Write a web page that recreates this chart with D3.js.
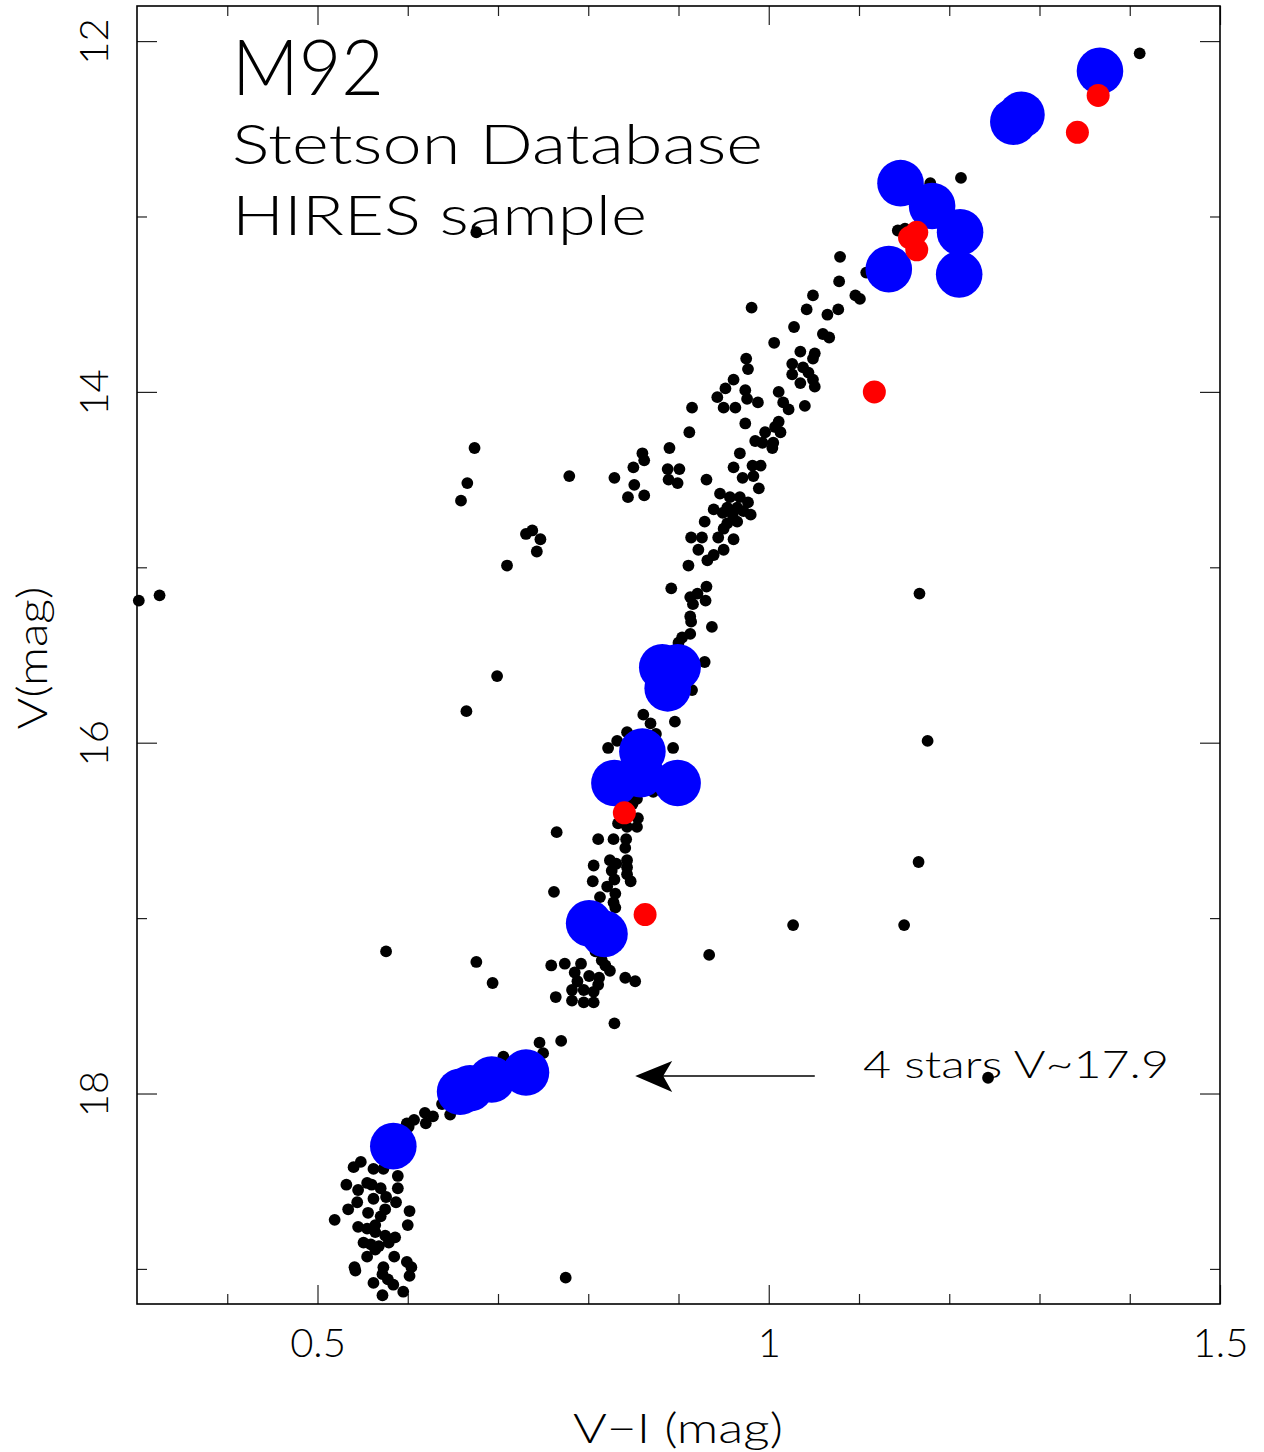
<!DOCTYPE html>
<html><head><meta charset="utf-8">
<script src="https://cdn.jsdelivr.net/npm/d3@7"></script>
<style>
body{margin:0;background:#fff}
svg{display:block;background:#fff}
text{font-family:"Lato","DejaVu Sans",sans-serif;font-weight:300;fill:#000}
</style>
</head><body>
<svg id="chart" width="1264" height="1452"></svg>
<script>
// ---------------- data (V-I colour, V magnitude) ----------------
const blackStars = [
[1.411,12.07],[1.213,12.78],[1.179,12.81],[1.143,13.08],[1.151,13.07],[1.079,13.23],[1.108,13.32],[1.078,13.37],[1.096,13.45],[1.101,13.47],
[1.049,13.45],[0.981,13.52],[1.042,13.53],[1.077,13.53],[1.065,13.56],[1.028,13.63],[1.060,13.67],[1.067,13.69],[1.006,13.72],[1.035,13.77],
[1.051,13.78],[1.049,13.81],[0.975,13.81],[0.977,13.87],[1.026,13.84],[1.038,13.86],[1.044,13.89],[1.026,13.90],[1.035,13.95],[1.049,13.93],
[1.051,13.97],[0.961,13.93],[0.952,13.98],[0.943,14.03],[0.950,14.09],[0.963,14.09],[0.974,13.99],[0.976,14.04],[0.988,14.06],[1.011,14.00],
[1.016,14.06],[1.022,14.10],[1.040,14.08],[0.915,14.09],[0.974,14.18],[1.011,14.17],[1.007,14.20],[1.013,14.23],[0.912,14.23],[0.996,14.23],
[0.985,14.28],[0.993,14.29],[1.005,14.29],[1.004,14.32],[0.890,14.32],[0.968,14.35],[0.860,14.35],[0.862,14.39],[0.674,14.32],[0.888,14.44],
[0.901,14.44],[0.889,14.50],[0.899,14.52],[0.961,14.43],[0.982,14.42],[0.991,14.42],[0.983,14.48],[0.971,14.49],[0.931,14.50],[0.989,14.55],
[0.850,14.43],[0.829,14.49],[0.851,14.53],[0.844,14.60],[0.862,14.59],[0.779,14.48],[0.666,14.52],[0.659,14.62],
[0.946,14.58],[0.957,14.60],[0.968,14.60],[0.977,14.63],[0.954,14.66],[0.965,14.66],[0.939,14.67],[0.949,14.69],[0.960,14.70],[0.972,14.68],
[0.980,14.70],[0.954,14.75],[0.965,14.74],[0.950,14.78],[0.929,14.74],[0.914,14.83],[0.926,14.83],[0.944,14.83],[0.961,14.84],
[0.738,14.79],[0.731,14.81],[0.747,14.84],[0.743,14.91],[0.922,14.90],[0.932,14.96],[0.939,14.93],[0.950,14.90],[0.911,14.99],[0.710,14.99],
[0.892,15.12],[0.913,15.17],[0.921,15.15],[0.931,15.11],[0.930,15.19],[0.916,15.21],[0.913,15.28],[0.914,15.31],[0.937,15.34],[0.913,15.38],
[0.904,15.40],[0.900,15.43],[0.929,15.54],[0.915,15.70],[0.302,15.19],[0.325,15.16],[0.699,15.62],[0.665,15.82],[0.861,15.84],[0.869,15.89],
[0.896,15.88],[0.843,15.94],[0.875,15.95],[0.832,15.99],[0.822,16.03],[0.894,16.03],[0.858,16.27],[0.872,16.28],[0.854,16.32],[0.849,16.35],
[0.833,16.46],[0.855,16.43],[0.854,16.48],[0.843,16.48],[0.765,16.51],[0.811,16.55],[0.828,16.55],[0.842,16.55],[0.841,16.60],[0.824,16.67],
[0.831,16.69],[0.843,16.67],[0.843,16.71],[0.806,16.70],[0.805,16.79],[0.826,16.73],[0.829,16.78],[0.821,16.82],[0.843,16.75],[0.847,16.79],
[0.762,16.85],[0.830,16.86],[0.813,16.88],[0.828,16.91],[0.830,16.94],[1.167,15.15],[1.176,15.99],[1.166,16.68],[1.150,17.04],[1.027,17.04],
[0.934,17.21],[0.576,17.19],[0.676,17.25],[0.694,17.37],[0.759,17.27],[0.774,17.26],[0.792,17.26],[0.815,17.24],[0.819,17.27],[0.824,17.30],
[0.785,17.31],[0.801,17.33],[0.812,17.34],[0.788,17.36],[0.811,17.38],[0.841,17.34],[0.852,17.36],[0.782,17.41],[0.795,17.41],[0.806,17.42],
[0.764,17.45],[0.782,17.47],[0.795,17.48],[0.806,17.48],[0.829,17.60],[0.746,17.71],[0.770,17.70],[0.750,17.77],[0.706,17.79],[1.243,17.91],
[0.638,18.06],[0.647,18.12],[0.619,18.11],[0.628,18.13],[0.620,18.17],[0.607,18.15],[0.599,18.17],[0.601,18.19],[0.540,18.42],[0.548,18.39],
[0.562,18.43],[0.573,18.43],[0.589,18.47],[0.532,18.52],[0.545,18.55],[0.555,18.51],[0.560,18.52],[0.570,18.54],[0.576,18.59],[0.589,18.54],
[0.544,18.62],[0.562,18.60],[0.587,18.62],[0.534,18.66],[0.556,18.68],[0.575,18.66],[0.570,18.70],[0.602,18.67],[0.519,18.72],[0.545,18.76],
[0.555,18.77],[0.564,18.75],[0.564,18.79],[0.600,18.75],[0.575,18.81],[0.586,18.82],[0.579,18.85],[0.551,18.85],[0.559,18.86],[0.568,18.87],
[0.555,18.93],[0.564,18.89],[0.585,18.93],[0.541,18.99],[0.542,19.01],[0.599,18.96],[0.604,18.99],[0.602,19.04],[0.573,18.99],[0.572,19.03],
[0.578,19.06],[0.584,19.09],[0.595,19.13],[0.562,19.08],[0.572,19.15],[0.775,19.05],[0.676,13.09],[0.813,17.15],[0.808,17.19]
];
const blueStars = [
[1.367,12.17],[1.271,12.46],[1.280,12.42],[1.146,12.81],[1.181,12.94],[1.212,13.09],[1.211,13.33],[1.133,13.30],
[0.882,15.57],[0.899,15.57],[0.888,15.69],[0.860,16.05],[0.829,16.23],[0.899,16.23],[0.858,16.18],
[0.801,17.03],[0.818,17.09],[0.731,17.88],[0.693,17.92],[0.669,17.97],[0.658,17.99],[0.584,18.30]
];
const redStars = [
[1.365,12.31],[1.342,12.52],[1.164,13.09],[1.156,13.12],[1.164,13.19],[1.117,14.00],[0.840,16.40],[0.863,16.98]
];
const xMajorTicks = [0.5, 1, 1.5];
const xMinorTicks = [0.4, 0.6, 0.7, 0.8, 0.9, 1.1, 1.2, 1.3, 1.4];
const yMajorTicks = [12, 14, 16, 18];
const yMinorTicks = [13, 15, 17, 19];
const titleLines = ["M92", "Stetson Database", "HIRES sample"];
const note = {text: "4 stars V~17.9", from: [1.051, 17.90], to: [0.852, 17.90]};

// ---------------- layout ----------------
const plot = {left:137, right:1220, top:6, bottom:1304};
const svg = d3.select("#chart");
const x = d3.scaleLinear().domain([0.3, 1.5]).range([plot.left, plot.right]);
const y = d3.scaleLinear().domain([11.8, 19.2]).range([plot.top, plot.bottom]);

function clean(g){ g.select(".domain").remove(); g.selectAll(".tick line").attr("stroke","#222").attr("stroke-width",1.2); }

// bottom
svg.append("g").attr("transform",`translate(0,${plot.bottom})`)
  .call(d3.axisBottom(x).tickValues(xMajorTicks).tickSize(-19).tickPadding(25).tickFormat(d=>String(d)))
  .call(clean)
  .call(g=>g.selectAll("text").style("font-size","40px"));
svg.append("g").attr("transform",`translate(0,${plot.bottom})`)
  .call(d3.axisBottom(x).tickValues(xMinorTicks).tickSize(-10).tickFormat(""))
  .call(clean);
// top
svg.append("g").attr("transform",`translate(0,${plot.top})`)
  .call(d3.axisTop(x).tickValues(xMajorTicks).tickSize(-19).tickFormat("")).call(clean);
svg.append("g").attr("transform",`translate(0,${plot.top})`)
  .call(d3.axisTop(x).tickValues(xMinorTicks).tickSize(-10).tickFormat("")).call(clean);
// left
svg.append("g").attr("transform",`translate(${plot.left},0)`)
  .call(d3.axisLeft(y).tickValues(yMajorTicks).tickSize(-20).tickFormat(d=>String(d)))
  .call(clean)
  .call(g=>g.selectAll("text")
     .attr("transform","rotate(-90)").attr("x",0).attr("y",-29).attr("dy",0)
     .attr("text-anchor","middle").style("font-size","40px"));
svg.append("g").attr("transform",`translate(${plot.left},0)`)
  .call(d3.axisLeft(y).tickValues(yMinorTicks).tickSize(-10).tickFormat("")).call(clean);
// right
svg.append("g").attr("transform",`translate(${plot.right},0)`)
  .call(d3.axisRight(y).tickValues(yMajorTicks).tickSize(-20).tickFormat("")).call(clean);
svg.append("g").attr("transform",`translate(${plot.right},0)`)
  .call(d3.axisRight(y).tickValues(yMinorTicks).tickSize(-10).tickFormat("")).call(clean);

svg.selectAll("g[font-family]").attr("font-family",null);
svg.selectAll(".tick text").attr("fill","#000");

// frame
svg.append("rect").attr("x",plot.left).attr("y",plot.top)
  .attr("width",plot.right-plot.left).attr("height",plot.bottom-plot.top)
  .attr("fill","none").attr("stroke","#000").attr("stroke-width",1.6);

// axis titles
svg.append("text").attr("x",678).attr("y",1443)
  .attr("text-anchor","middle").style("font-size","41px")
  .attr("textLength",210).attr("lengthAdjust","spacingAndGlyphs").text("V−I (mag)");
svg.append("text").attr("transform","translate(47,658) rotate(-90)")
  .attr("text-anchor","middle").style("font-size","41px")
  .attr("textLength",143).attr("lengthAdjust","spacingAndGlyphs").text("V(mag)");

// points
svg.append("g").selectAll("circle").data(blackStars).join("circle")
  .attr("cx",d=>x(d[0])).attr("cy",d=>y(d[1])).attr("r",5.9).attr("fill","#000");
svg.append("g").selectAll("circle").data(blueStars).join("circle")
  .attr("cx",d=>x(d[0])).attr("cy",d=>y(d[1])).attr("r",23.3).attr("fill","#0000ff");
svg.append("g").selectAll("circle").data(redStars).join("circle")
  .attr("cx",d=>x(d[0])).attr("cy",d=>y(d[1])).attr("r",11.5).attr("fill","#ff0000");

// titles
const titleSpecs = [
  {size:77, y:95, len:152},
  {size:56, y:164, len:531},
  {size:56, y:235, len:415}
];
svg.append("g").selectAll("text").data(titleLines).join("text")
  .attr("x",232).attr("y",(d,i)=>titleSpecs[i].y)
  .style("font-size",(d,i)=>titleSpecs[i].size+"px")
  .attr("textLength",(d,i)=>titleSpecs[i].len).attr("lengthAdjust","spacingAndGlyphs")
  .text(d=>d);

// annotation arrow
const ax1 = x(note.from[0]), ax2 = x(note.to[0]), ay = y(note.from[1]);
svg.append("line").attr("x1",ax1).attr("x2",ax2+20).attr("y1",ay).attr("y2",ay)
  .attr("stroke","#000").attr("stroke-width",1.6);
svg.append("path")
  .attr("d",`M${ax2},${ay} L${ax2+37},${ay-15} L${ax2+28},${ay} L${ax2+37},${ay+16} Z`)
  .attr("fill","#000");
svg.append("text").attr("x",863).attr("y",1078).style("font-size","37px")
  .attr("textLength",306).attr("lengthAdjust","spacingAndGlyphs").text(note.text);
</script>
</body></html>
